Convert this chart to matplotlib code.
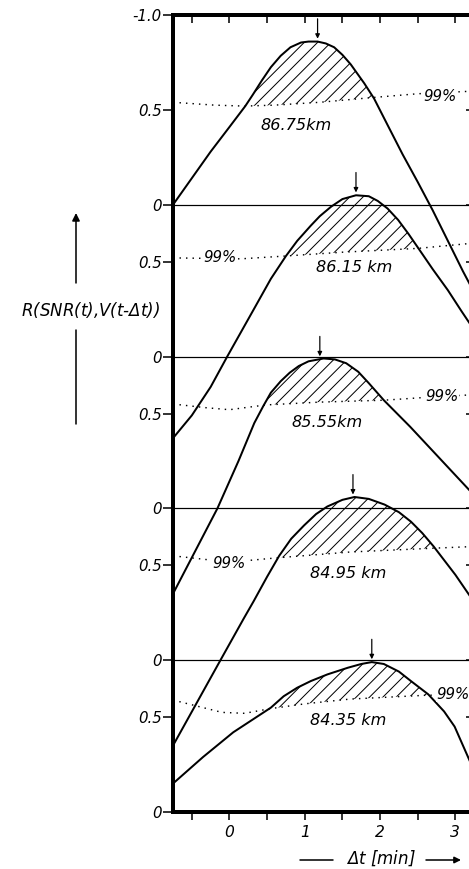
import numpy as np
import matplotlib.pyplot as plt

plt.rcParams['font.family'] = ['DejaVu Sans']
plt.rcParams['font.style'] = 'italic'
plt.rcParams['hatch.linewidth'] = 0.9

# correlation |R| against lag (min), panels from top to bottom
labels = ['86.75km', '86.15 km', '85.55km', '84.95 km', '84.35 km']
peak_lag = [1.17, 1.68, 1.2, 1.64, 1.89]

lag_1 = [-0.75, -0.5, -0.25, 0.0, 0.21, 0.31, 0.43, 0.55, 0.68, 0.81, 0.95, 1.05, 1.17, 1.28,
         1.39, 1.5, 1.61, 1.7, 1.79, 1.92, 2.1, 2.3, 2.5, 2.7, 2.9, 3.1, 3.3]
r_1 = [0.0, 0.14, 0.28, 0.41, 0.52, 0.58, 0.655, 0.725, 0.785, 0.83, 0.855, 0.86, 0.86, 0.85,
       0.83, 0.79, 0.74, 0.69, 0.64, 0.56, 0.42, 0.265, 0.12, -0.03, -0.19, -0.35, -0.5]

lag_2 = [-0.75, -0.5, -0.25, -0.03, 0.31, 0.55, 0.75, 0.9, 1.08, 1.2, 1.35, 1.5, 1.68, 1.85,
         1.97, 2.1, 2.24, 2.38, 2.51, 2.7, 2.9, 3.08, 3.3]
r_2 = [-0.43, -0.31, -0.16, 0.0, 0.24, 0.41, 0.53, 0.61, 0.69, 0.74, 0.79, 0.83, 0.85, 0.845,
       0.82, 0.78, 0.72, 0.645, 0.57, 0.46, 0.35, 0.24, 0.11]

lag_3 = [-0.75, -0.16, 0.12, 0.33, 0.45, 0.55, 0.68, 0.8, 0.92, 1.05, 1.25, 1.4, 1.55, 1.71,
         1.85, 2.05, 2.4, 2.8, 3.2, 3.3]
r_3 = [-0.45, 0.0, 0.25, 0.45, 0.54, 0.61, 0.67, 0.715, 0.75, 0.775, 0.79, 0.785, 0.765,
       0.72, 0.66, 0.57, 0.43, 0.26, 0.09, 0.05]

lag_4 = [-0.75, -0.12, 0.19, 0.32, 0.5, 0.66, 0.82, 0.99, 1.15, 1.3, 1.5, 1.66, 1.85, 2.06,
         2.25, 2.41, 2.56, 2.71, 3.0, 3.19, 3.3]
r_4 = [-0.45, 0.0, 0.22, 0.31, 0.44, 0.55, 0.64, 0.71, 0.77, 0.81, 0.845, 0.86, 0.85, 0.82,
       0.78, 0.73, 0.67, 0.6, 0.45, 0.34, 0.26]

lag_5 = [-0.75, -0.35, 0.05, 0.55, 0.72, 0.9, 1.08, 1.3, 1.57, 1.75, 1.89, 2.05, 2.25, 2.41,
         2.64, 2.85, 2.99, 3.19, 3.3]
r_5 = [0.15, 0.29, 0.42, 0.55, 0.61, 0.655, 0.69, 0.725, 0.76, 0.78, 0.79, 0.78, 0.74, 0.69,
       0.62, 0.53, 0.45, 0.27, 0.15]

# 99% significance levels
sig_lag_1 = [-0.75, -0.2, 0.2, 0.6, 1.2, 1.9, 2.5, 3.3]
sig_1 = [0.54, 0.525, 0.52, 0.525, 0.54, 0.565, 0.585, 0.6]
sig_lag_2 = [-0.75, 0.15, 0.75, 1.5, 2.5, 3.3]
sig_2 = [0.52, 0.515, 0.53, 0.55, 0.57, 0.6]
sig_lag_3 = [-0.75, -0.3, 0.0, 0.48, 1.2, 2.05, 2.8, 3.3]
sig_3 = [0.55, 0.53, 0.52, 0.545, 0.56, 0.57, 0.59, 0.6]
sig_lag_4 = [-0.75, -0.3, 0.1, 0.65, 1.6, 2.7, 3.3]
sig_4 = [0.55, 0.53, 0.52, 0.54, 0.57, 0.59, 0.6]
sig_lag_5 = [-0.75, -0.4, -0.1, 0.2, 0.55, 1.0, 1.6, 2.6, 3.3]
sig_5 = [0.59, 0.555, 0.525, 0.52, 0.545, 0.57, 0.595, 0.615, 0.62]

lags = [lag_1, lag_2, lag_3, lag_4, lag_5]
rs = [r_1, r_2, r_3, r_4, r_5]
sig_lags = [sig_lag_1, sig_lag_2, sig_lag_3, sig_lag_4, sig_lag_5]
sigs = [sig_1, sig_2, sig_3, sig_4, sig_5]

# text placement
km_x = [0.89, 1.66, 1.29, 1.58, 1.58]
km_y = [0.416, 0.468, 0.453, 0.458, 0.484]
pct_x = [2.8, -0.13, 2.82, -0.01, 2.97]
pct_y = [0.57, 0.52, 0.59, 0.51, 0.62]

W, H, DPI = 469, 869, 80
unit = 75.3  # px per minute
xmin, xmax = -0.75, 3.28
fig = plt.figure(figsize=(W / DPI, H / DPI), dpi=DPI)
ax = fig.add_axes([173 / W, 57 / H, (xmax - xmin) * unit / W, 797 / H])

step = 0.8
n = len(lags)
for i in range(n):
    off = (n - 1 - i) * step
    t = np.array(lags[i])
    r = np.array(rs[i])
    ax.plot(t, r + off, color='k', lw=1.8, solid_capstyle='round', solid_joinstyle='round')
    ax.plot(sig_lags[i], np.array(sigs[i]) + off, color='k', lw=1.3, ls=(0, (1, 3.5)))
    # hatched area where curve exceeds 99% level
    xs = np.linspace(t.min(), t.max(), 1200)
    rc = np.interp(xs, t, r)
    sc = np.interp(xs, sig_lags[i], sigs[i])
    ax.fill_between(xs, sc + off, rc + off, where=rc > sc, interpolate=True,
                    facecolor='none', edgecolor='k', hatch='//', linewidth=0)
    pk = np.interp(peak_lag[i], t, r)
    ax.annotate('', xy=(peak_lag[i], pk + off + 0.015), xytext=(peak_lag[i], pk + off + 0.12),
                arrowprops=dict(arrowstyle='-|>', color='k', lw=1.1, mutation_scale=8,
                                shrinkA=0, shrinkB=0))
    ax.text(km_x[i], km_y[i] + off, labels[i], fontsize=14.5, ha='center', va='center')
    ax.text(pct_x[i], pct_y[i] + off, '99%', fontsize=13.5, ha='center', va='center',
            bbox=dict(facecolor='white', edgecolor='none', pad=0.5))
    if off > 0:
        ax.axhline(off, color='k', lw=1.1)

ax.set_xlim(xmin, xmax)
ax.set_ylim(0, (n - 1) * step + 1.0)

yt = []
yl = []
for i in range(n):
    yt += [i * step, i * step + 0.5]
    yl += ['0', '0.5']
yt.append((n - 1) * step + 1.0)
yl.append('-1.0')
ax.set_yticks(yt, yl)
ax.set_xticks([0, 1, 2, 3], ['0', '1', '2', '3'])
ax.set_xticks([-0.5, 0.5, 1.5, 2.5], minor=True)

ax.tick_params(axis='y', direction='out', length=9, width=1.4, pad=1, labelsize=13.5)
ax.tick_params(axis='x', which='both', direction='out', length=7, width=1.4, pad=5,
               labelsize=14)
for s in ['left', 'bottom', 'top', 'right']:
    ax.spines[s].set_linewidth(3.6)

top = ax.secondary_xaxis('top')
top.set_xticks(np.arange(-0.5, 3.5, 0.5))
top.tick_params(direction='in', length=7, width=1.4, labeltop=False)
top.spines['top'].set_visible(False)
right = ax.secondary_yaxis('right')
right.set_yticks(yt)
right.tick_params(direction='in', length=9, width=1.4, labelright=False)
right.spines['right'].set_visible(False)

# y label with its arrow
fig.text(90 / W, 1 - 310 / H, r'R(SNR(t),V(t-$\Delta$t))', fontsize=15, ha='center',
         va='center')
ax.annotate('', xy=(76, H - 213), xytext=(76, H - 283), xycoords='figure pixels',
            textcoords='figure pixels', annotation_clip=False,
            arrowprops=dict(arrowstyle='-|>', color='k', lw=1.4, mutation_scale=14,
                            shrinkA=0, shrinkB=0))
ax.annotate('', xy=(76, H - 330), xytext=(76, H - 424), xycoords='figure pixels',
            textcoords='figure pixels', annotation_clip=False,
            arrowprops=dict(arrowstyle='-', color='k', lw=1.4, shrinkA=0, shrinkB=0))

# x label with its arrows
fig.text(381 / W, 1 - 858 / H, r'$\Delta$t [min]', fontsize=15, ha='center', va='center')
ax.annotate('', xy=(333, H - 860), xytext=(300, H - 860), xycoords='figure pixels',
            textcoords='figure pixels', annotation_clip=False,
            arrowprops=dict(arrowstyle='-', color='k', lw=1.4, shrinkA=0, shrinkB=0))
ax.annotate('', xy=(461, H - 860), xytext=(426, H - 860), xycoords='figure pixels',
            textcoords='figure pixels', annotation_clip=False,
            arrowprops=dict(arrowstyle='-|>', color='k', lw=1.4, mutation_scale=12,
                            shrinkA=0, shrinkB=0))

fig.savefig('out.png', dpi=DPI)
